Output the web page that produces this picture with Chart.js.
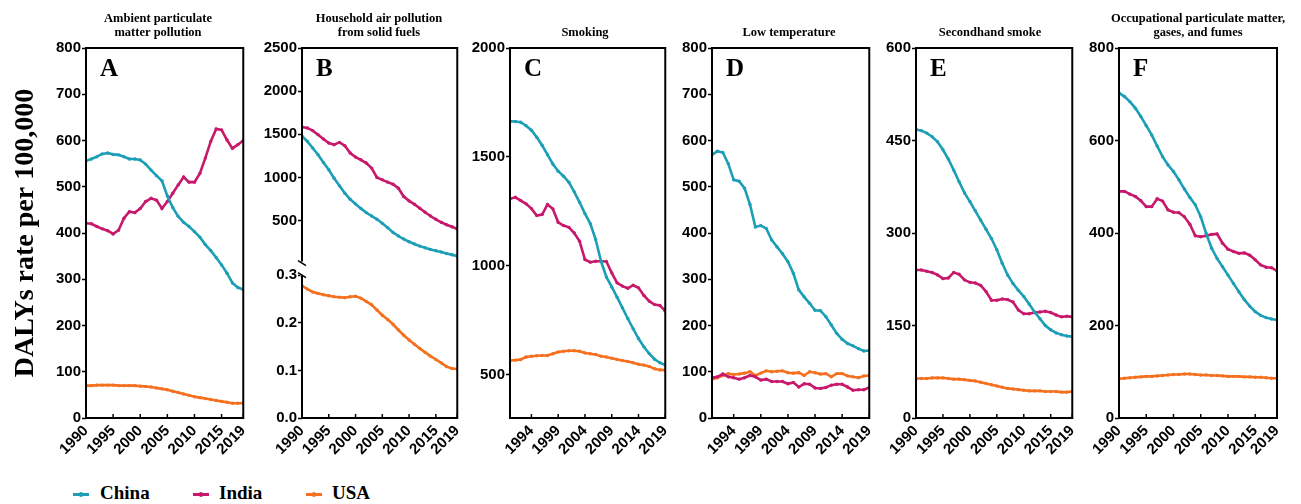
<!DOCTYPE html>
<html>
<head>
<meta charset="utf-8">
<script src="https://cdn.jsdelivr.net/npm/chart.js@4.4.1/dist/chart.umd.min.js"></script>
<style>
  html, body { margin:0; padding:0; background:#ffffff; width:1301px; height:504px; overflow:hidden; position:relative; }
  canvas { position:absolute; top:0; }
  .leg { position:absolute; top:482px; height:21px; line-height:21px; font-family:'Liberation Serif','Times New Roman',serif; font-weight:bold; font-size:19px; color:#000; white-space:nowrap; }
  .mk { position:absolute; top:493px; width:16px; height:2.5px; }
  .mk i { position:absolute; left:6px; top:-1.5px; width:4px; height:5px; border-radius:2px; background:inherit; }
</style>
</head>
<body>
<div class="mk" id="mkChina" style="left:73px;"><i></i></div><div class="leg" style="left:100px;">China</div>
<div class="mk" id="mkIndia" style="left:193px;"><i></i></div><div class="leg" style="left:219px;">India</div>
<div class="mk" id="mkUSA" style="left:306px;"><i></i></div><div class="leg" style="left:332px;">USA</div>
<script>
// ---------------- DATA ----------------
const years = [1990,1991,1992,1993,1994,1995,1996,1997,1998,1999,2000,2001,2002,2003,2004,2005,2006,2007,2008,2009,2010,2011,2012,2013,2014,2015,2016,2017,2018,2019];
const seriesNames = ['China','India','USA'];
const xTicksMain = [1990,1995,2000,2005,2010,2015,2019];
const xTicksAlt = [1994,1999,2004,2009,2014,2019];

const ambientChina = [556,560,565,571,573,570,569,565,560,560,558,549,536,524,513,480,455,436,423,414,403,391,375,362,347,331,313,292,282,278];
const ambientIndia = [421,420,414,409,405,398,406,432,446,444,453,468,475,471,453,468,486,504,521,510,510,529,562,598,625,623,601,583,591,600];
const ambientUSA   = [70,70,71,71,71,71,70,70,70,70,69,68,67,65,63,61,58,55,52,49,46,44,42,40,38,36,34,32,32,32];

const householdChina = [1477,1419,1341,1264,1174,1089,992,903,818,748,694,640,593,554,516,469,419,364,322,287,256,229,205,186,167,151,136,120,105,89];
const householdIndia = [1585,1574,1543,1496,1446,1399,1380,1407,1368,1283,1236,1205,1167,1109,1000,973,946,922,876,779,729,690,643,597,554,516,481,453,430,403];
const householdUSA   = [0.278,0.271,0.265,0.262,0.259,0.257,0.255,0.254,0.253,0.255,0.256,0.252,0.245,0.238,0.227,0.216,0.207,0.197,0.185,0.174,0.164,0.155,0.146,0.138,0.130,0.123,0.116,0.108,0.104,0.103];

const smokingChina = [1663,1662,1659,1643,1622,1590,1553,1510,1467,1434,1411,1383,1339,1291,1239,1193,1120,1020,948,902,855,806,757,710,665,627,596,570,554,543];
const smokingIndia = [1307,1314,1299,1284,1262,1230,1235,1281,1261,1199,1184,1176,1150,1112,1028,1016,1020,1020,1019,967,921,906,896,910,898,863,837,821,817,791];
const smokingUSA   = [564,566,569,580,584,586,587,587,595,603,607,609,609,607,599,595,592,584,580,575,569,564,560,554,547,543,537,526,521,520];

const lowTempChina = [569,577,574,550,515,512,497,462,413,416,410,385,370,355,338,313,277,262,248,233,232,219,201,183,170,161,156,150,145,146];
const lowTempIndia = [87,89,95,89,87,84,87,92,89,82,84,79,79,79,74,77,67,74,73,65,64,66,71,73,73,67,60,61,61,66];
const lowTempUSA   = [84,87,92,96,94,95,97,100,92,97,102,100,101,102,98,97,98,92,100,98,95,96,89,96,96,91,89,87,91,92];

const secondhandChina = [468,466,462,456,448,435,420,402,383,365,351,336,321,306,291,273,251,232,218,207,197,185,172,161,150,143,138,135,133,132];
const secondhandIndia = [240,240,238,236,232,226,227,236,233,224,220,219,215,205,191,191,193,192,188,175,169,169,171,172,173,171,167,164,165,164];
const secondhandUSA   = [64,64,64,65,65,65,64,63,63,62,61,60,58,56,54,52,50,48,47,46,45,44,44,44,43,43,43,42,42,43];

const occupationalChina = [703,695,684,670,652,632,612,588,565,547,533,515,495,477,461,435,399,367,345,327,309,291,273,256,242,230,222,217,214,212];
const occupationalIndia = [490,490,484,479,470,457,457,474,469,450,445,444,435,419,394,392,394,397,398,378,365,360,356,357,352,342,331,326,325,318];
const occupationalUSA   = [85,86,87,88,89,90,90,91,92,93,94,94,95,95,94,93,93,92,92,91,90,90,90,89,89,88,88,87,86,86];

const yTicksA = [0,100,200,300,400,500,600,700,800];
const yTicksBHigh = [500,1000,1500,2000,2500];
const yTicksBLow = [0,0.1,0.2,0.3];
const yTicksC = [500,1000,1500,2000];
const yTicksD = [0,100,200,300,400,500,600,700,800];
const yTicksE = [0,150,300,450,600];
const yTicksF = [0,200,400,600,800];

const panelTitles = {
  A: ['Ambient particulate','matter pollution'],
  B: ['Household air pollution','from solid fuels'],
  C: ['Smoking'],
  D: ['Low temperature'],
  E: ['Secondhand smoke'],
  F: ['Occupational particulate matter,','gases, and fumes']
};
const yAxisTitle = 'DALYs rate per 100,000';

// ---------------- STYLE / LAYOUT ----------------
const colors = { China:'#1c9fb6', India:'#c8186c', USA:'#f5701f' };
document.getElementById('mkChina').style.background = colors.China;
document.getElementById('mkIndia').style.background = colors.India;
document.getElementById('mkUSA').style.background = colors.USA;

const SANS = "'Liberation Sans', Arial, Helvetica, sans-serif";
const SERIF = "'Liberation Serif', 'Times New Roman', serif";
const CH = 460;

const panels = [
  {key:'A', L:0,    W:260, yw:86, padR:14, titleX:158,  series:[ambientChina, ambientIndia, ambientUSA], yMin:0, yMax:800, yTicks:yTicksA, xTicks:xTicksMain, yTitle:true},
  {key:'B', L:252,  W:222, yw:50, padR:14, titleX:379,  series:[householdChina, householdIndia, householdUSA], broken:true, xTicks:xTicksMain},
  {key:'C', L:460,  W:222, yw:50, padR:14, titleX:585,  series:[smokingChina, smokingIndia, smokingUSA], yMin:300, yMax:2000, yTicks:yTicksC, xTicks:xTicksAlt},
  {key:'D', L:662,  W:224, yw:50, padR:14, titleX:789,  series:[lowTempChina, lowTempIndia, lowTempUSA], yMin:0, yMax:800, yTicks:yTicksD, xTicks:xTicksAlt},
  {key:'E', L:866,  W:223, yw:50, padR:14, titleX:990,  series:[secondhandChina, secondhandIndia, secondhandUSA], yMin:0, yMax:600, yTicks:yTicksE, xTicks:xTicksMain},
  {key:'F', L:1069, W:232, yw:50, padR:24, titleX:1198, series:[occupationalChina, occupationalIndia, occupationalUSA], yMin:0, yMax:800, yTicks:yTicksF, xTicks:xTicksMain}
];

function setTicks(list) {
  return function(scale) { scale.ticks = list.map(v => ({value: v})); };
}

function yScale(p, ticks, min, max, extra) {
  return Object.assign({
    type:'linear', position:'left', min:min, max:max,
    afterBuildTicks: setTicks(ticks),
    afterFit: s => { s.width = p.yw; },
    border:{display:false},
    grid:{display:true, drawOnChartArea:false, drawTicks:true, tickLength:4, tickWidth:1.5, tickColor:'#000'},
    ticks:{color:'#000', padding:1, font:{family:SANS, weight:'bold', size:15}, callback: v => String(v)}
  }, extra || {});
}

const decor = {
  id:'decor',
  afterDraw(chart) {
    const p = chart.options.plugins.decor;
    const ctx = chart.ctx;
    const a = chart.chartArea;
    ctx.save();
    ctx.strokeStyle = '#000';
    ctx.lineWidth = 2;
    ctx.strokeRect(a.left, a.top, a.right - a.left, a.bottom - a.top);
    // inward x tick marks
    const xs = chart.scales.x;
    ctx.lineWidth = 1.5;
    xs.ticks.forEach(t => {
      const px = xs.getPixelForValue(t.value);
      ctx.beginPath(); ctx.moveTo(px, a.bottom); ctx.lineTo(px, a.bottom - 4); ctx.stroke();
    });
    // axis break
    if (p.broken) {
      const by = chart.scales.yHi.bottom;
      ctx.fillStyle = '#fff';
      ctx.fillRect(a.left - 2, by - 8, 4, 14);
      ctx.strokeStyle = '#000';
      ctx.lineWidth = 1.5;
      ctx.beginPath(); ctx.moveTo(a.left - 4, by - 9); ctx.lineTo(a.left + 4, by - 4); ctx.stroke();
      ctx.beginPath(); ctx.moveTo(a.left - 4, by + 3); ctx.lineTo(a.left + 4, by + 8); ctx.stroke();
    }
    // panel letter
    ctx.fillStyle = '#000';
    ctx.font = 'bold 25px ' + SERIF;
    ctx.textAlign = 'left';
    ctx.textBaseline = 'alphabetic';
    ctx.fillText(p.letter, a.left + 14, 76);
    // panel title
    ctx.font = 'bold 12.5px ' + SERIF;
    ctx.textAlign = 'center';
    const lines = p.title;
    const base = lines.length === 2 ? [22, 36] : [36];
    lines.forEach((ln, i) => ctx.fillText(ln, p.tx, base[i]));
    ctx.restore();
  }
};

panels.forEach(p => {
  const cv = document.createElement('canvas');
  cv.width = p.W; cv.height = CH;
  cv.style.left = p.L + 'px';
  cv.style.width = p.W + 'px'; cv.style.height = CH + 'px';
  document.body.appendChild(cv);

  const axisIds = p.broken ? ['yHi','yHi','yLo'] : ['y','y','y'];
  const datasets = seriesNames.map((name, k) => ({
    label: name,
    data: years.map((yr, i) => ({x: yr, y: p.series[k][i]})),
    borderColor: colors[name], backgroundColor: colors[name],
    borderWidth: 2.6, pointRadius: 1.7, pointBorderWidth: 0, pointHoverRadius: 0,
    tension: 0, yAxisID: axisIds[k]
  }));

  const scales = {
    x: {
      type:'linear', position:'bottom', min:1990, max:2019,
      afterBuildTicks: setTicks(p.xTicks),
      afterFit: s => { s.height = CH - 418; },
      border:{display:false},
      grid:{display:true, drawOnChartArea:false, drawTicks:false},
      ticks:{color:'#000', padding:4, autoSkip:false, minRotation:45, maxRotation:45,
             font:{family:SANS, weight:'bold', size:15}, callback: v => String(v)}
    }
  };
  if (p.broken) {
    scales.yLo = yScale(p, yTicksBLow, 0, 0.312, {stack:'b', stackWeight:148});
    scales.yLo.ticks.callback = v => v.toFixed(1);
    scales.yHi = yScale(p, yTicksBHigh, -67, 2500, {stack:'b', stackWeight:221});
  } else {
    scales.y = yScale(p, p.yTicks, p.yMin, p.yMax);
    if (p.yTitle) {
      scales.y.title = {display:true, text:yAxisTitle, color:'#000',
        font:{family:SERIF, weight:'bold', size:28}, padding:{top:9, bottom:0}};
    }
  }

  new Chart(cv, {
    type:'line',
    data:{datasets},
    options:{
      responsive:false, animation:false, devicePixelRatio:1,
      layout:{padding:{top:48, right:p.padR, left:0, bottom:0}},
      scales,
      plugins:{
        legend:{display:false}, tooltip:{enabled:false}, title:{display:false},
        decor:{letter:p.key, title:panelTitles[p.key], tx:p.titleX - p.L, broken:!!p.broken}
      }
    },
    plugins:[decor]
  });
});
</script>
</body>
</html>
